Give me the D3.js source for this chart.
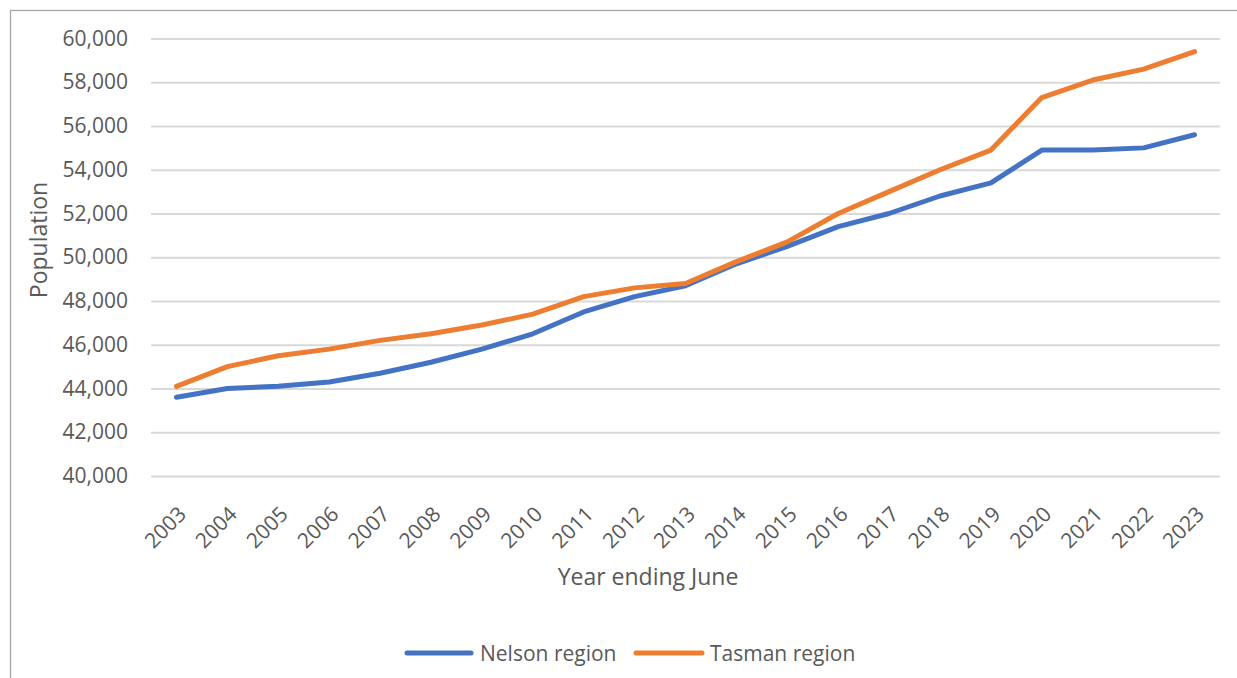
<!DOCTYPE html>
<html><head><meta charset="utf-8">
<script src="https://cdn.jsdelivr.net/npm/d3@7"></script>
<style>
html,body{margin:0;padding:0;background:#fff;}
svg{display:block;font-family:"Open Sans","Noto Sans",sans-serif;}
</style></head>
<body>
<svg id="chart" width="1237" height="678"></svg>
<script>
const years = ["2003","2004","2005","2006","2007","2008","2009","2010","2011","2012","2013","2014","2015","2016","2017","2018","2019","2020","2021","2022","2023"];
const nelson = [43600,44000,44100,44300,44700,45200,45800,46500,47500,48200,48700,49700,50500,51400,52000,52800,53400,54900,54900,55000,55600];
const tasman = [44100,45000,45500,45800,46200,46500,46900,47400,48200,48600,48800,49800,50700,52000,53000,54000,54900,57300,58100,58600,59400];
const yTicks = [40000,42000,44000,46000,48000,50000,52000,54000,56000,58000,60000];
const seriesNames = ["Nelson region","Tasman region"];
const colors = ["#4472C4","#ED7D31"];

const svg = d3.select("#chart");
svg.append("rect").attr("x",10.5).attr("y",10.5).attr("width",1300).attr("height",700)
  .attr("fill","none").attr("stroke","#a6a6a6").attr("stroke-width",1.3);

const x = d3.scalePoint().domain(years).range([151,1220]).padding(0.5);
const y = d3.scaleLinear().domain([40000,60000]).range([476,38.5]);

// gridlines
const grid = svg.append("g").attr("transform","translate(151,0)")
  .call(d3.axisLeft(y).tickValues(yTicks).tickSize(-(1220-151)).tickFormat(""));
grid.select(".domain").remove();
grid.selectAll("line").attr("stroke","#d9d9d9").attr("stroke-width",2);

// y labels
const ya = svg.append("g").attr("transform","translate(128,0)")
  .call(d3.axisLeft(y).tickValues(yTicks).tickSize(0).tickPadding(0).tickFormat(d3.format(",")));
ya.select(".domain").remove();
ya.selectAll("text").attr("font-size",21).attr("fill","#595959").attr("font-family","Open Sans");

// x labels
const xa = svg.append("g").attr("transform","translate(0,476)")
  .call(d3.axisBottom(x).tickSize(0).tickPadding(0));
xa.select(".domain").remove();
xa.selectAll("text").attr("font-size",21).attr("fill","#595959").attr("font-family","Open Sans")
  .attr("text-anchor","end").attr("dy",null).attr("y",null)
  .attr("transform","translate(-2,27) rotate(-45)")
  .attr("dominant-baseline","hanging");

// lines
const data = [nelson, tasman];
const line = d3.line().x((d,i)=>x(years[i])).y(d=>y(d));
data.forEach((s,k)=>{
  svg.append("path").datum(s).attr("d",line).attr("fill","none")
    .attr("stroke",colors[k]).attr("stroke-width",5)
    .attr("stroke-linecap","round").attr("stroke-linejoin","round");
});

// axis titles
svg.append("text").attr("x",648).attr("y",585).attr("text-anchor","middle")
  .attr("font-size",23).attr("fill","#595959").text("Year ending June");
svg.append("text").attr("transform","translate(47,240) rotate(-90)").attr("text-anchor","middle")
  .attr("font-size",23).attr("fill","#595959").text("Population");

// legend
const legX = [[407,471,480],[636,702,710]];
seriesNames.forEach((n,k)=>{
  svg.append("line").attr("x1",legX[k][0]).attr("x2",legX[k][1]).attr("y1",653).attr("y2",653)
    .attr("stroke",colors[k]).attr("stroke-width",5).attr("stroke-linecap","round");
  svg.append("text").attr("x",legX[k][2]).attr("y",661).attr("font-size",21).attr("fill","#595959").text(n);
});
</script>
</body></html>
